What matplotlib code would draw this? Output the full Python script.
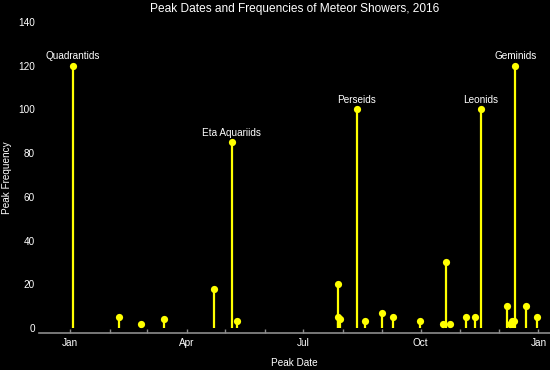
import datetime as dt
import matplotlib
matplotlib.use("Agg")
import matplotlib.pyplot as plt
import matplotlib.dates as mdates

# peak dates (2016) and peak frequencies (ZHR)
peak_dates = ["2016-01-03", "2016-02-08", "2016-02-25", "2016-03-14",
              "2016-04-22", "2016-05-06", "2016-05-10", "2016-07-28",
              "2016-07-28", "2016-07-30", "2016-08-12", "2016-08-18",
              "2016-09-01", "2016-09-09", "2016-09-30", "2016-10-18",
              "2016-10-21", "2016-10-24", "2016-11-05", "2016-11-12",
              "2016-11-17", "2016-12-07", "2016-12-10", "2016-12-11",
              "2016-12-13", "2016-12-14", "2016-12-22", "2016-12-31"]
peak_freq = [120, 5, 2, 4,
             18, 85, 3, 20,
             5, 4, 100, 3,
             7, 5, 3, 2,
             30, 2, 5, 5,
             100, 10, 2, 3,
             3, 120, 10, 5]
named = {"Quadrantids": 0, "Eta Aquariids": 5, "Perseids": 10,
         "Leonids": 20, "Geminids": 25}

yticks = [0, 20, 40, 60, 80, 100, 120, 140]

yellow = "#ffff00"
grey = "#8c8c8c"
plt.rcParams["font.family"] = ["Liberation Sans", "DejaVu Sans"]

x = [mdates.date2num(dt.datetime.strptime(d, "%Y-%m-%d")) for d in peak_dates]

fig = plt.figure(figsize=(5.5, 3.7), dpi=100, facecolor="black")
ax = fig.add_axes([39 / 550, 37 / 370, 511 / 550, 311 / 370], facecolor="black")

ax.vlines(x, 0, peak_freq, color=yellow, linewidth=1.6, zorder=2)
ax.plot(x, peak_freq, "o", color=yellow, markersize=5.2, zorder=3,
        markeredgewidth=0)

for name, i in named.items():
    ax.annotate(name, (x[i], peak_freq[i]), xytext=(0, 6.8),
                textcoords="offset points", ha="center", va="center",
                color="white", fontsize=7.2)

ax.set_xlim(mdates.date2num(dt.datetime(2015, 12, 7, 12)),
            mdates.date2num(dt.datetime(2017, 1, 10)))
ax.set_ylim(-2.3, 140)
ax.set_yticks(yticks)

ax.xaxis.set_major_locator(mdates.MonthLocator(bymonth=[1, 4, 7, 10]))
ax.xaxis.set_major_formatter(mdates.DateFormatter("%b"))
ax.xaxis.set_minor_locator(mdates.MonthLocator())

for s in ["top", "right", "left"]:
    ax.spines[s].set_visible(False)
ax.spines["bottom"].set_color(grey)
ax.spines["bottom"].set_linewidth(1.2)

ax.tick_params(axis="x", which="both", direction="in", length=3,
               color=grey, width=1, labelcolor="white", labelsize=7.2, pad=3.5)
ax.tick_params(axis="y", length=0, labelcolor="white", labelsize=7.2, pad=3)

ax.set_title("Peak Dates and Frequencies of Meteor Showers, 2016",
             color="white", fontsize=8.6, pad=7)
ax.set_xlabel("Peak Date", color="white", fontsize=7.2, labelpad=7)
ax.set_ylabel("Peak Frequency", color="white", fontsize=7.2, labelpad=4)

fig.savefig("out.png", dpi=100, facecolor="black")
